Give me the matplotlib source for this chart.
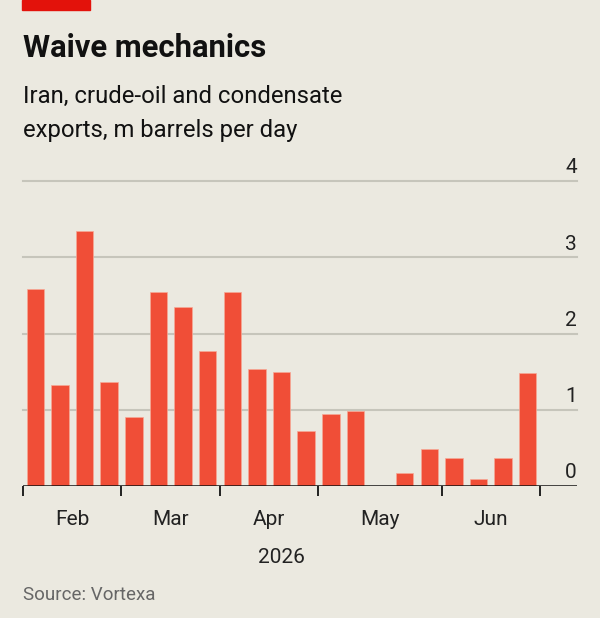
import numpy as np
import matplotlib.pyplot as plt
from matplotlib.transforms import blended_transform_factory

# Weekly Iran crude-oil and condensate exports, m barrels per day
weeks = np.arange(21)
exports = [2.59, 1.32, 3.34, 1.37, 0.90, 2.55, 2.35, 1.77, 2.54, 1.53, 1.49,
           0.72, 0.95, 0.99, 0.00, 0.17, 0.49, 0.37, 0.09, 0.37, 1.48]
month_labels = ["Feb", "Mar", "Apr", "May", "Jun"]
month_edges = [-0.5, 3.5, 7.5, 11.5, 16.5, 20.5]
yticks = [0, 1, 2, 3, 4]

BG = "#ebe9e0"
RED = "#f04e37"
GRID = "#c6c5bb"

plt.rcParams["font.family"] = ["Roboto", "DejaVu Sans"]

fig = plt.figure(figsize=(6, 6.18), dpi=100, facecolor=BG)
ax = fig.add_axes([23 / 600, 132 / 618, 554 / 600, 305 / 618], facecolor=BG)

# top red tag
fig.patches.append(plt.Rectangle((22 / 600, 1 - 10 / 618), 68 / 600, 10 / 618,
                                 transform=fig.transFigure, color="#e3120b",
                                 zorder=5))

fig.text(23 / 600, 1 - 57 / 618, "Waive mechanics", fontsize=22.3, weight="bold",
         color="#111111", va="baseline")
fig.text(23 / 600, 1 - 103 / 618, "Iran, crude-oil and condensate",
         fontsize=17.2, color="#111111", va="baseline")
fig.text(23 / 600, 1 - 137 / 618, "exports, m barrels per day",
         fontsize=17.2, color="#111111", va="baseline")
fig.text(23 / 600, 1 - 600 / 618, "Source: Vortexa", fontsize=13.5,
         color="#666666", va="baseline")

ax.set_xlim(-0.5, 22.0)
ax.set_ylim(0, 4)

for v in yticks[1:]:
    ax.axhline(v, color=GRID, lw=1.5, zorder=0, clip_on=False)

ax.bar(weeks, exports, width=0.71, color=RED, edgecolor="#f7a896",
       linewidth=0.5, zorder=2)

ax.axhline(0, color="#111111", lw=1.8, zorder=3)

# y labels sit above the gridlines at right edge
trans = blended_transform_factory(ax.transAxes, ax.transData)
for v in yticks:
    ax.annotate(str(v), xy=(1.0, v), xycoords=trans, xytext=(0, 5.5),
                textcoords="offset points", ha="right", va="baseline",
                fontsize=15, color="#222222", annotation_clip=False)

for s in ax.spines.values():
    s.set_visible(False)
ax.set_yticks([])

ax.set_xticks(month_edges)
ax.set_xticklabels([])
ax.tick_params(axis="x", which="major", length=7.5, width=1.3,
               color="#111111", direction="out")
centers = [(month_edges[i] + month_edges[i + 1]) / 2 for i in range(5)]
ax.set_xticks(centers, minor=True)
ax.set_xticklabels(month_labels, minor=True)
ax.tick_params(axis="x", which="minor", length=0, pad=17, labelsize=15,
               labelcolor="#222222")

ax.text(10, -77 / 76.3, "2026", ha="center", va="baseline",
        fontsize=15, color="#222222")

fig.savefig("out.png", dpi=100, facecolor=BG)
